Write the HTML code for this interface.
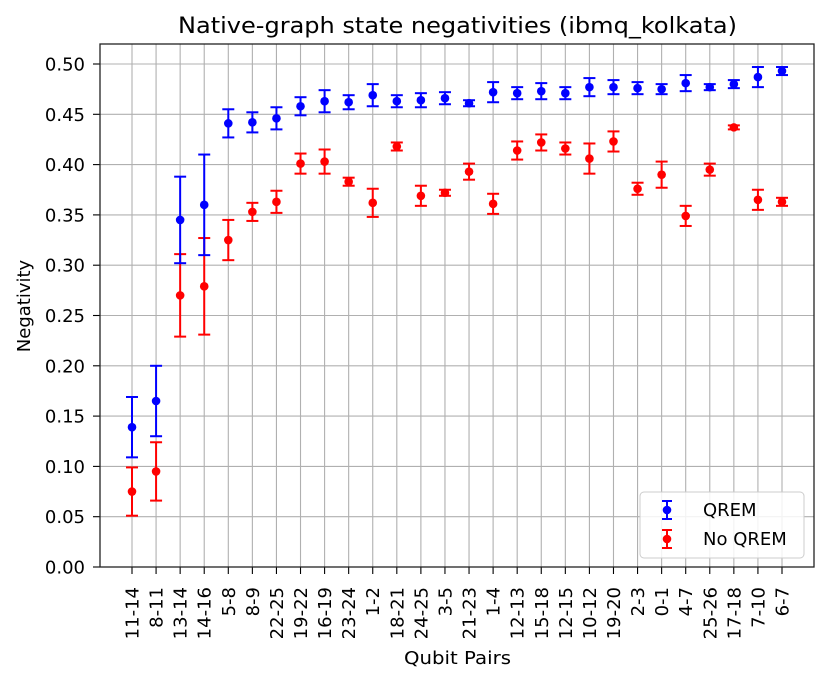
<!DOCTYPE html>
<html><head><meta charset="utf-8"><style>
body{margin:0;background:#fff;font-family:"DejaVu Sans","Liberation Sans",sans-serif;}
</style></head><body>
<svg id="chart" width="828" height="680" xmlns="http://www.w3.org/2000/svg" font-family="DejaVu Sans, Liberation Sans, sans-serif"></svg>
<script>
const categories=["11-14","8-11","13-14","14-16","5-8","8-9","22-25","19-22","16-19","23-24","1-2","18-21","24-25","3-5","21-23","1-4","12-13","15-18","12-15","10-12","19-20","2-3","0-1","4-7","25-26","17-18","7-10","6-7"];
const qremValues=[0.139,0.165,0.345,0.360,0.441,0.442,0.446,0.458,0.463,0.462,0.469,0.463,0.464,0.466,0.461,0.472,0.471,0.473,0.471,0.477,0.477,0.476,0.475,0.481,0.477,0.480,0.487,0.493];
const qremErrors=[0.030,0.035,0.043,0.050,0.014,0.010,0.011,0.009,0.011,0.007,0.011,0.006,0.007,0.006,0.003,0.010,0.006,0.008,0.006,0.009,0.007,0.006,0.005,0.008,0.003,0.004,0.010,0.004];
const noQremValues=[0.075,0.095,0.270,0.279,0.325,0.353,0.363,0.401,0.403,0.383,0.362,0.418,0.369,0.372,0.393,0.361,0.414,0.422,0.416,0.406,0.423,0.376,0.390,0.349,0.395,0.437,0.365,0.363];
const noQremErrors=[0.024,0.029,0.041,0.048,0.020,0.009,0.011,0.010,0.012,0.004,0.014,0.004,0.010,0.003,0.008,0.010,0.009,0.008,0.006,0.015,0.010,0.006,0.013,0.010,0.006,0.002,0.010,0.004];
const yTicks=[0,0.05,0.10,0.15,0.20,0.25,0.30,0.35,0.40,0.45,0.50];

const L=100,R=814,T=44,B=567;
const xs=i=>132+i*(782-132)/(categories.length-1);
const ys=v=>B-v*1006;
const svg=document.getElementById('chart');
const NS='http://www.w3.org/2000/svg';
function mk(tag,attrs,parent){const e=document.createElementNS(NS,tag);for(const k in attrs)e.setAttribute(k,attrs[k]);(parent||svg).appendChild(e);return e;}

const grid=mk('g',{});


yTicks.forEach(t=>{
  mk('line',{x1:L,x2:R,y1:ys(t),y2:ys(t),stroke:'#b0b0b0','stroke-width':1.1},grid);
  mk('line',{x1:L-7,x2:L,y1:ys(t),y2:ys(t),stroke:'#000','stroke-width':1.1});
  const tx=mk('text',{x:L-15,y:ys(t)+6.5,'text-anchor':'end','font-size':18,fill:'#000'});
  
  
  tx.textContent=t.toFixed(2);
});
categories.forEach((c,i)=>{
  const x=xs(i);
  mk('line',{x1:x,x2:x,y1:T,y2:B,stroke:'#b0b0b0','stroke-width':1.1},grid);
  mk('line',{x1:x,x2:x,y1:B,y2:B+7,stroke:'#000','stroke-width':1.1});
  const tx=mk('text',{transform:`translate(${x+6.5},${B+20}) rotate(-90)`,'text-anchor':'end','font-size':18,fill:'#000'});
  
  
  tx.textContent=c;
});
function series(vals,errs,color,name){
  const g=mk('g',{});
  
  
  vals.forEach((v,i)=>{
    const x=xs(i),e=errs[i];
    mk('line',{x1:x,x2:x,y1:ys(v-e),y2:ys(v+e),stroke:color,'stroke-width':2},g);
    mk('line',{x1:x-6,x2:x+6,y1:ys(v-e),y2:ys(v-e),stroke:color,'stroke-width':2},g);
    mk('line',{x1:x-6,x2:x+6,y1:ys(v+e),y2:ys(v+e),stroke:color,'stroke-width':2},g);
    const p=mk('circle',{cx:x,cy:ys(v),r:4.3,fill:color},g);
    
    
  });
}
series(noQremValues,noQremErrors,'#ff0000','no-qrem-series');
series(qremValues,qremErrors,'#0000ff','qrem-series');
mk('rect',{x:L,y:T,width:R-L,height:B-T,fill:'none',stroke:'#222','stroke-width':1.3});

const title=mk('text',{x:178,y:33,'font-size':22,fill:'#000',textLength:559,lengthAdjust:'spacingAndGlyphs'});


title.textContent='Native-graph state negativities (ibmq_kolkata)';
const xt=mk('text',{x:404,y:664,'font-size':18,fill:'#000',textLength:107,lengthAdjust:'spacingAndGlyphs'});


xt.textContent='Qubit Pairs';
const yt=mk('text',{transform:'translate(30,306) rotate(-90)','text-anchor':'middle','font-size':18,fill:'#000'});


yt.textContent='Negativity';

const lg=mk('g',{});


mk('rect',{x:640,y:492,width:164,height:66,rx:4,fill:'#fff','fill-opacity':0.85,stroke:'#ccc'},lg);
[['QREM','#0000ff',510],['No QREM','#ff0000',539]].forEach(([lab,col,y])=>{
  const e=mk('g',{},lg);
  
  
  mk('line',{x1:667,x2:667,y1:y-9,y2:y+9,stroke:col,'stroke-width':2},e);
  mk('line',{x1:662,x2:672,y1:y-9,y2:y-9,stroke:col,'stroke-width':2},e);
  mk('line',{x1:662,x2:672,y1:y+9,y2:y+9,stroke:col,'stroke-width':2},e);
  mk('circle',{cx:667,cy:y,r:4.3,fill:col},e);
  const t=mk('text',{x:703,y:y+6,'font-size':18,fill:'#000'},e);
  t.textContent=lab;
});
</script>
</body></html>
